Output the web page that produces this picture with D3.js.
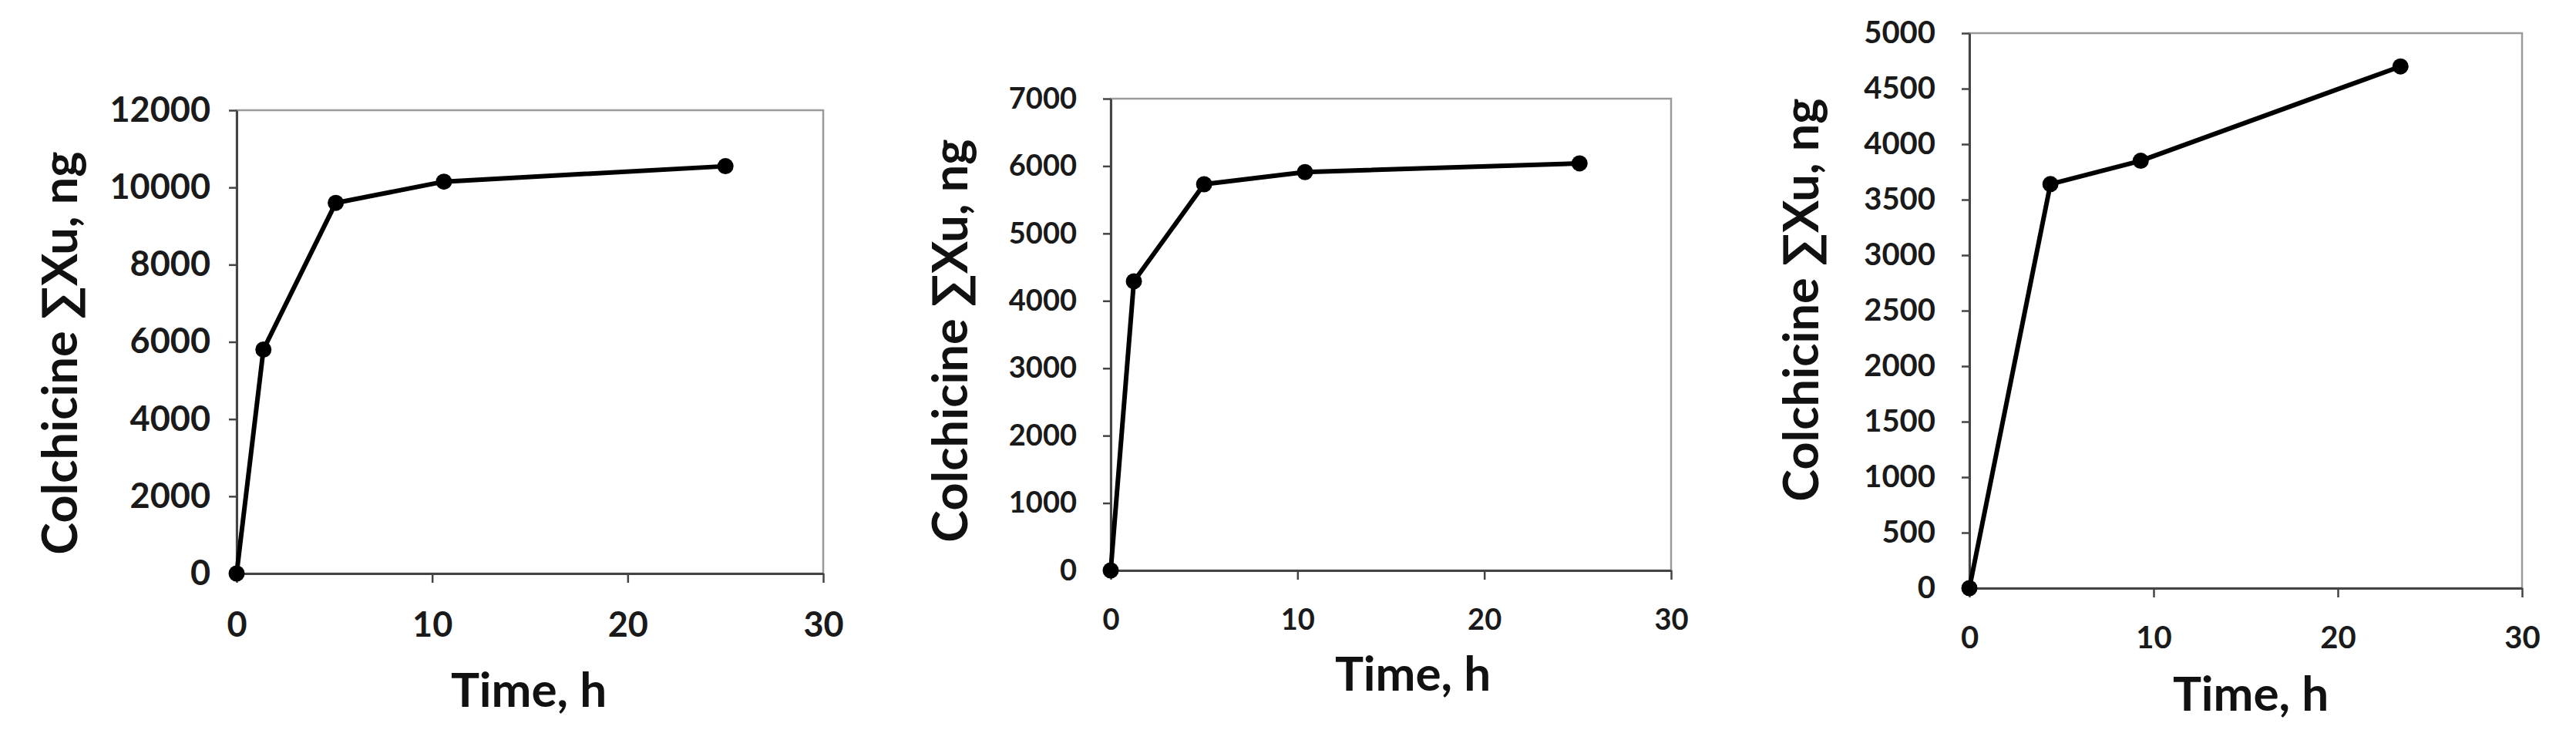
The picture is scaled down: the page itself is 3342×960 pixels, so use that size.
<!DOCTYPE html>
<html>
<head>
<meta charset="utf-8">
<script src="https://cdn.jsdelivr.net/npm/d3@7/dist/d3.min.js"></script>
<style>
  body { margin: 0; background: #fff; }
  svg { display: block; }
  text { font-family: Lato, 'Open Sans', sans-serif; font-weight: bold; }
</style>
</head>
<body>
<svg id="chart"></svg>
<script>

const width = 3342
const height = 960

const xTicks = [0, 10, 20, 30]
const yTitle = 'Colchicine \u2211Xu, ng'
const xTitle = 'Time, h'

// left panel
const timeA = [0, 1.37, 5.07, 10.6, 25]
const sumA = [0, 5800, 9600, 10150, 10550]
const yTicksA = [0, 2000, 4000, 6000, 8000, 10000, 12000]

// middle panel
const timeB = [0, 1.24, 5.0, 10.4, 25.1]
const sumB = [0, 4290, 5730, 5910, 6040]
const yTicksB = [0, 1000, 2000, 3000, 4000, 5000, 6000, 7000]

// right panel
const timeC = [0, 4.4, 9.3, 23.4]
const sumC = [0, 3640, 3850, 4700]
const yTicksC = [0, 500, 1000, 1500, 2000, 2500, 3000, 3500, 4000, 4500, 5000]

let svg = d3.select('#chart')
  .attr('width', width)
  .attr('height', height)

let panels = [
  { t: timeA, v: sumA, ticks: yTicksA, box: [307, 1068, 143, 744], tickFont: 45, yPad: 22,
    xTitleAt: [686, 917], yTitleAt: [75, 458] },
  { t: timeB, v: sumB, ticks: yTicksB, box: [1441, 2168, 128, 740], tickFont: 38, yPad: 32,
    xTitleAt: [1833, 896], yTitleAt: [1230, 442] },
  { t: timeC, v: sumC, ticks: yTicksC, box: [2555, 3272, 43, 763], tickFont: 40, yPad: 32,
    xTitleAt: [2920, 922], yTitleAt: [2334, 389] }
]

let drawPanel = p => {
  let [left, right, top, bottom] = p.box
  let g = svg.append('g')

  let x = d3.scaleLinear().domain([0, 30]).range([left, right])
  let y = d3.scaleLinear().domain([0, d3.max(p.ticks)]).range([bottom, top])

  // plot frame
  g.append('rect')
    .attr('x', left)
    .attr('y', top)
    .attr('width', right - left)
    .attr('height', bottom - top)
    .attr('fill', 'none')
    .attr('stroke', '#9a9a9a')
    .attr('stroke-width', 2.5)

  let xAxis = g.append('g')
    .attr('transform', 'translate(0,' + bottom + ')')
    .call(d3.axisBottom(x).tickValues(xTicks).tickFormat(d3.format('d'))
      .tickSize(12).tickPadding(38).tickSizeOuter(0))

  let yAxis = g.append('g')
    .attr('transform', 'translate(' + left + ',0)')
    .call(d3.axisLeft(y).tickValues(p.ticks).tickFormat(d3.format('d'))
      .tickSize(12).tickPadding(p.yPad).tickSizeOuter(0))

  ;[xAxis, yAxis].forEach(a => {
    a.select('.domain').attr('stroke', '#444').attr('stroke-width', 3)
    a.selectAll('.tick line').attr('stroke', '#444').attr('stroke-width', 2.5)
    a.selectAll('.tick text')
      .attr('fill', '#1a1a1a')
      .style('font-size', p.tickFont + 'px')
  })
  yAxis.selectAll('.tick line').attr('x2', -10)

  // the series
  let pts = p.t.map((t, i) => [t, p.v[i]])

  g.append('path')
    .datum(pts)
    .attr('fill', 'none')
    .attr('stroke', '#000')
    .attr('stroke-width', 6)
    .attr('stroke-linejoin', 'round')
    .attr('d', d3.line().x(d => x(d[0])).y(d => y(d[1])))

  g.selectAll('circle')
    .data(pts)
    .enter()
    .append('circle')
    .attr('cx', d => x(d[0]))
    .attr('cy', d => y(d[1]))
    .attr('r', 10.5)
    .attr('fill', '#000')

  // axis titles
  g.append('text')
    .attr('x', p.xTitleAt[0])
    .attr('y', p.xTitleAt[1])
    .attr('text-anchor', 'middle')
    .style('font-size', '62px')
    .attr('fill', '#111')
    .text(xTitle)

  g.append('text')
    .attr('transform', 'translate(' + p.yTitleAt[0] + ',' + p.yTitleAt[1] + ') rotate(-90)')
    .attr('text-anchor', 'middle')
    .attr('dominant-baseline', 'central')
    .style('font-size', '63px')
    .attr('fill', '#111')
    .text(yTitle)
}

panels.forEach(drawPanel)

</script>
</body>
</html>
